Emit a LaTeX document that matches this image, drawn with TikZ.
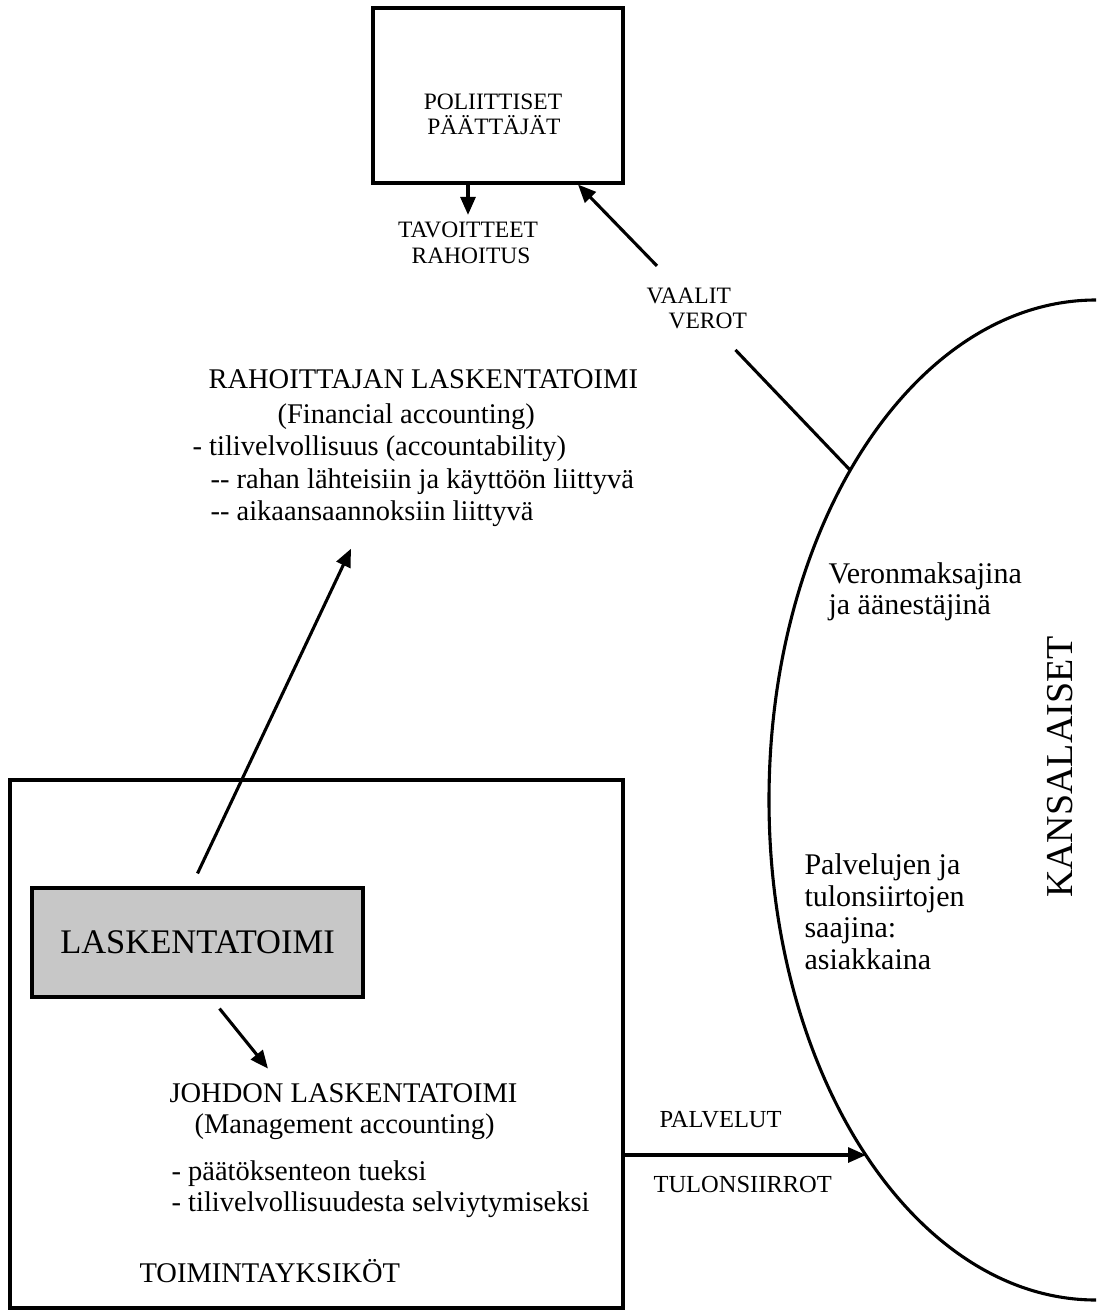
\documentclass[tikz,border=0pt]{standalone}
\usepackage{fontspec}
\setmainfont{Liberation Serif}
\usetikzlibrary{arrows.meta}

\newcommand{\fsz}[1]{\fontsize{#1}{#1}\selectfont}

\begin{document}
\begin{tikzpicture}[x=1pt, y=-1pt, line width=3.1pt,
    arr/.style={-{Triangle[length=18pt, width=15pt]}},
    box/.style={draw, rectangle, inner sep=0pt},
    lbl/.style={inner sep=0pt, anchor=base, font=\fsz{23.5}},
    body/.style={inner sep=0pt, anchor=base west, font=\fsz{28.5}},
    role/.style={inner sep=0pt, anchor=base west, font=\fsz{30}}]
    \useasboundingbox (0,0) rectangle (1097,1311);

    % kansalaiset
    \draw (1096,300) arc[start angle=-90, end angle=-270, x radius=327, y radius=500];
    \coordinate (kvote) at (850,470);
    \coordinate (kserv) at (866,1155);
    \node[rotate=90, inner sep=0pt, font=\fsz{38}] (kans) at (1060,767) {KANSALAISET};
    \node[role] (k1) at (827,583) {Veronmaksajina};
    \node[role] (k2) at (827,614) {ja äänestäjinä};
    \node[role] (k3) at (803,874) {Palvelujen ja};
    \node[role] (k4) at (803,906) {tulonsiirtojen};
    \node[role] (k5) at (803,937) {saajina:};
    \node[role] (k6) at (803,969) {asiakkaina};

    % poliittiset paattajat
    \node[box, minimum width=250pt, minimum height=175pt] (pp) at (498,95.5) {};
    \node[lbl] (pp1) at (493,110) {POLIITTISET};
    \node[lbl] (pp2) at (494,135) {PÄÄTTÄJÄT};
    \node[lbl] (t1) at (468,237) {TAVOITTEET};
    \node[lbl] (t2) at (471,263) {RAHOITUS};
    \draw[arr] (pp.south -| t1.north) -- ([yshift=5pt]t1.north);

    \node[lbl, anchor=base west] (v1) at (645,303) {VAALIT};
    \node[lbl, anchor=base west] (v2) at (667,328) {VEROT};
    \draw[arr] ([shift={(12,-20)}]v1.north west) -- ([xshift=80pt]pp.south);
    \draw ([shift={(-13,20)}]v2.south east) -- (kvote);

    % rahoittajan laskentatoimi
    \node[body] (r1) at (207,388) {RAHOITTAJAN LASKENTATOIMI};
    \node[body] (r2) at (276,423) {(Financial accounting)};
    \node[body] (r3) at (191,455) {- tilivelvollisuus (accountability)};
    \node[body] (r4) at (209,488) {-{}- rahan lähteisiin ja käyttöön liittyvä};
    \node[body] (r5) at (209,520) {-{}- aikaansaannoksiin liittyvä};

    % toimintayksikot
    \node[box, minimum width=613pt, minimum height=528pt] (toim) at (316.5,1044) {};
    \node[box, fill=black!22, minimum width=331pt, minimum height=109pt,
        font=\fsz{34.5}] (lask) at (197.5,942.5) {LASKENTATOIMI};
    \draw[arr] ([yshift=13pt]lask.north) -- ([shift={(142,21)}]r5.south west);

    \node[body] (j1) at (168,1102) {JOHDON LASKENTATOIMI};
    \node[body] (j2) at (193,1133) {(Management accounting)};
    \node[body] (j3) at (170,1180) {- päätöksenteon tueksi};
    \node[body] (j4) at (170,1211) {- tilivelvollisuudesta selviytymiseksi};
    \node[body] (tlbl) at (138,1282) {TOIMINTAYKSIKÖT};
    \draw[arr] ([shift={(22,10)}]lask.south) -- ([shift={(100,-13)}]j1.north west);

    \node[lbl, anchor=base west, font=\fsz{24.5}] (pal) at (658,1127) {PALVELUT};
    \node[lbl, anchor=base west, font=\fsz{24.5}] (tul) at (652,1192) {TULONSIIRROT};
    \draw[arr] (toim.east |- kserv) -- (kserv);
\end{tikzpicture}
\end{document}
